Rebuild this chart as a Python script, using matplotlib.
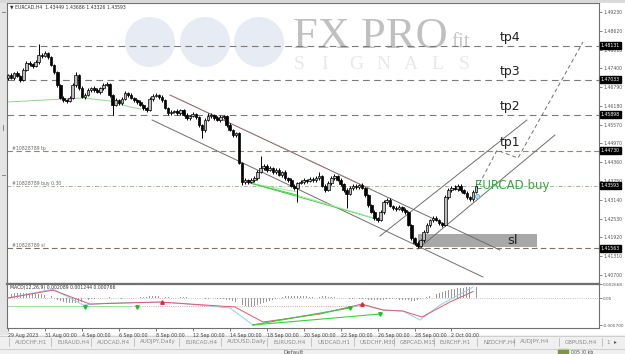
import matplotlib
matplotlib.use("Agg")
import matplotlib.pyplot as plt
from matplotlib.patches import Rectangle, Circle
import numpy as np

W, H = 625, 354

# EURCAD H4 closes, one per bar (bar 0 = 29 Aug 2023 00:00)
first_open = 1.47089
closes = [
    1.47187, 1.47089, 1.47252, 1.47154, 1.47025, 1.47349, 1.47576, 1.47544, 1.47479, 1.47608,
    1.47835, 1.47803, 1.47900, 1.47770, 1.47511, 1.47284, 1.46862, 1.46441, 1.46376, 1.46344,
    1.46441, 1.46862, 1.47187, 1.46765, 1.46473, 1.46538, 1.46700, 1.46765, 1.46700, 1.46635,
    1.46765, 1.46862, 1.46895, 1.46538, 1.46214, 1.46376, 1.46279, 1.46408, 1.46603, 1.46538,
    1.46441, 1.46376, 1.46311, 1.46214, 1.46117, 1.46052, 1.46408, 1.46506, 1.46538, 1.46473,
    1.46376, 1.46117, 1.45954, 1.45987, 1.46019, 1.45954, 1.46052, 1.45890, 1.45792, 1.45857,
    1.45922, 1.45825, 1.45565, 1.45403, 1.45727, 1.45857, 1.45890, 1.45792, 1.45727, 1.45825,
    1.45857, 1.45565, 1.45403, 1.45241, 1.45306, 1.44333, 1.43717, 1.43782, 1.43717, 1.43782,
    1.43846, 1.44041, 1.44171, 1.44236, 1.44106, 1.44171, 1.44041, 1.44106, 1.43944, 1.44041,
    1.43846, 1.43782, 1.43587, 1.43522, 1.43684, 1.43717, 1.43782, 1.43749, 1.43814, 1.43782,
    1.43846, 1.43911, 1.43587, 1.43457, 1.43684, 1.43846, 1.43911, 1.43782, 1.43652, 1.43457,
    1.43328, 1.43522, 1.43587, 1.43555, 1.43619, 1.43522, 1.43295, 1.42971, 1.42744, 1.42549,
    1.42484, 1.42744, 1.43068, 1.43133, 1.42938, 1.42874, 1.42841, 1.42906, 1.42809, 1.42744,
    1.42322, 1.41901, 1.41739, 1.41641, 1.41836, 1.42095, 1.42322, 1.42484, 1.42549, 1.42484,
    1.42387, 1.42322, 1.43230, 1.43457, 1.43522, 1.43490, 1.43587, 1.43457, 1.43360, 1.43230,
    1.43166, 1.43393, 1.43593]
# wick lengths in points (0.0001)
up_wick = [
    4, 6, 3, 5, 4, 6, 8, 5, 4, 6,
    35, 5, 6, 4, 3, 3, 4, 3, 5, 4,
    5, 6, 10, 4, 5, 6, 5, 4, 5, 6,
    4, 5, 8, 4, 3, 5, 4, 6, 5, 4,
    5, 3, 4, 5, 3, 4, 6, 5, 7, 4,
    5, 4, 3, 6, 4, 5, 4, 3, 5, 4,
    6, 4, 3, 4, 8, 10, 5, 4, 6, 5,
    4, 3, 5, 4, 3, 3, 4, 5, 4, 6,
    5, 8, 40, 6, 5, 7, 4, 6, 5, 4,
    5, 4, 6, 5, 4, 6, 5, 4, 7, 5,
    6, 12, 4, 5, 6, 5, 8, 4, 5, 4,
    5, 6, 8, 5, 4, 5, 4, 3, 4, 5,
    4, 6, 8, 5, 6, 4, 5, 6, 4, 5,
    4, 3, 4, 5, 4, 6, 5, 4, 6, 5,
    4, 3, 6, 8, 5, 10, 6, 5, 4, 5,
    4, 6, 10]
dn_wick = [
    5, 4, 6, 4, 6, 3, 4, 5, 6, 4,
    5, 6, 4, 5, 4, 5, 6, 4, 6, 5,
    4, 3, 5, 6, 4, 5, 4, 6, 5, 4,
    5, 6, 4, 5, 32, 4, 5, 6, 4, 5,
    4, 6, 5, 4, 5, 6, 4, 5, 4, 6,
    5, 4, 6, 5, 4, 5, 6, 4, 5, 6,
    4, 5, 6, 26, 5, 4, 6, 5, 4, 5,
    6, 5, 4, 6, 5, 4, 10, 6, 5, 4,
    6, 5, 4, 5, 6, 4, 5, 6, 4, 5,
    6, 5, 4, 5, 45, 4, 6, 5, 4, 5,
    6, 5, 4, 5, 4, 6, 5, 4, 5, 6,
    45, 4, 5, 6, 5, 4, 6, 5, 4, 6,
    5, 4, 6, 5, 4, 6, 5, 4, 6, 5,
    4, 6, 5, 8, 4, 5, 4, 6, 5, 4,
    6, 5, 4, 5, 6, 4, 5, 6, 4, 5,
    8, 5, 4]

# MACD histogram, in 0.0001
hist = [
    8, 8, 9, 10, 10, 10, 10, 9, 9, 8, 8, 7, 6, 5, 4,
    -2, -4, -6, -8, -9, -10, -10, -9, -8, -7, -5, -4,
    -2, -1, 0, 0, 1, 1, 2, 1, 1, 0, -1, -1, 0, 0,
    1, 1, 2, 2, 2, 3, 3, 3, 3, 2, 2, 2, 1, 1, 1, 2, 2, 2, 1, 1, 0, 0, -1, -1, -1, 0, 0, -1, -1, -2, -3, -4,
    -6, -8, -11, -14, -16, -17, -17, -16, -14, -12, -9,
    -7, -5, -3, -1, 1, 2, 3, 3, 4, 4, 4, 3, 3, 3, 2, 2, 2,
    2, 3, 3, 2, 2, 2, 1, 1, 0, 0, -1, -1, -1, -2, -2,
    -2, -3, -3, -4, -4, -3, -3, -2, -2, -2,
    -2, -3, -3, -4, -4, -5, -5, -4, -2,
    0, 2, 4, 6, 8, 10, 12, 14, 16, 17, 18, 19, 20, 20, 21, 21, 21, 21]
macd_main_x = [0, 14.6, 24.4, 33.1, 49.4, 62.3, 72.1, 79.5, 91.6, 101.3, 114.9, 121.8, 128.2, 133.8, 140.3, 151]
macd_main_y = [0, 0.00171, -0.00133, -0.00095, -0.00076, -0.00133, -0.0019, -0.00513, -0.0038,
               -0.00285, -0.00133, -0.00228, -0.00247, -0.00418, -0.00133, 0.002089]
macd_sig_x = [0, 14.6, 26.6, 49.4, 73.7, 82.8, 101.3, 114.9, 121.8, 128.2, 134.4, 143.5, 151]
macd_sig_y = [0, 0.0015, -0.00114, -0.00076, -0.00171, -0.00456, -0.00304, -0.00114, -0.00228,
              -0.00247, -0.00361, -0.00076, 0.001244]

date_pos = [0, 12, 24, 36, 48, 60, 72, 84, 96, 108, 120, 132, 144]
date_labels = ["29 Aug 2023", "31 Aug 00:00", "4 Sep 00:00", "6 Sep 00:00", "8 Sep 00:00",
               "12 Sep 00:00", "14 Sep 00:00", "18 Sep 00:00", "20 Sep 00:00", "22 Sep 00:00",
               "26 Sep 00:00", "28 Sep 00:00", "2 Oct 00:00"]
price_ticks = [1.49230, 1.48620, 1.48010, 1.47400, 1.46790, 1.46180, 1.45570, 1.44970,
               1.44360, 1.43750, 1.43140, 1.42530, 1.41920, 1.41310, 1.40700]

tp_names = ["tp4", "tp3", "tp2", "tp1"]
tp_prices = [1.48131, 1.47033, 1.45898, 1.44730]
buy_price = 1.43593
sl_price = 1.41563

# trend lines as (bar, price) pairs
down_upper = [(52.6, 1.46538), (159.7, 1.41511)]
down_lower = [(46.8, 1.45727), (154.2, 1.40636)]
up_upper = [(120.8, 1.41966), (168.5, 1.45727)]
up_lower = [(133.1, 1.41544), (177.6, 1.45241)]
projection = [(152, 1.43457), (158.8, 1.44749), (165.6, 1.44495), (186.7, 1.48257)]
red_dots = [(53.5, 1.46500), (118, 1.43480)]
ma_x = [-0.3, 24.4, 33.1, 39.6, 43]
ma_y = [1.46311, 1.46441, 1.46344, 1.46149, 1.46084]
div_lines = [[(78.6, 1.43684), (93.8, 1.43295)], [(78.6, 1.43684), (93.8, 1.43393)],
             [(78.6, 1.43684), (120.8, 1.42484)], [(93.8, 1.43295), (120.8, 1.42484)]]
sl_zone = (133.1, 171.8, 1.41609, 1.42031)

tabs = ["AUDCHF,H1", "EURAUD,H4", "AUDCAD,H4", "AUDJPY,Daily", "EURCAD,H4", "AUDUSD,Daily",
        "EURUSD,H4", "USDCAD,H1", "USDCHF,M30", "GBPCAD,M15", "EURCHF,H1", "NZDCHF,H4",
        "AUDJPY,H4", "GBPUSD,H4"]
tab_x = [15, 57, 97, 140, 185, 227, 273, 317, 360, 400, 440, 483, 520, 565]


def box(x, y, w, h):
    return [x / W, 1 - (y + h) / H, w / W, h / H]


fig = plt.figure(figsize=(W / 100, H / 100), dpi=100, facecolor="#f0f0f0")

# pixel space for the window chrome
bg = fig.add_axes([0, 0, 1, 1])
bg.set_xlim(0, W)
bg.set_ylim(H, 0)
bg.axis("off")
bg.add_patch(Rectangle((0, 0), W, 3, color="#d8d8d8"))
bg.add_patch(Rectangle((7, 3), W - 7, 332, color="white"))
bg.add_patch(Rectangle((0, 3), 7, 332, color="#e4e4e4"))
bg.plot([2, 5], [12, 12], color="#777777", lw=0.6)
bg.plot([3, 3], [125, 130], color="#777777", lw=0.6)
bg.plot([2, 5], [175, 175], color="#777777", lw=0.6)
bg.add_patch(Rectangle((0, 335), W, 13, color="#f0f0f0"))
bg.plot([0, W], [335.5, 335.5], color="#c8c8c8", lw=0.6)
for name, tx in zip(tabs, tab_x):
    bg.text(tx, 342, name, fontsize=4.0, color="#8a8a8a", va="center", ha="left")
    bg.plot([tx - 6, tx - 6], [338, 346], color="#b0b0b0", lw=0.5)
bg.plot([602, 602], [338, 346], color="#b0b0b0", lw=0.5)
bg.text(606, 342, "1", fontsize=4.0, color="#8a8a8a", va="center")
bg.text(614, 342, "\u25b8", fontsize=4.0, color="#555555", va="center")
bg.plot([0, W], [348.5, 348.5], color="#c8c8c8", lw=0.6)
bg.text(283, 353, "Default", fontsize=4.0, color="#555555", va="center")
bg.add_patch(Rectangle((558, 349), 10, 5, color="#7a9a3a"))
bg.text(571, 352, "005 /0 kb", fontsize=3.4, color="#555555", va="center")

ax = fig.add_axes(box(7, 3, 592, 280))
mx = fig.add_axes(box(7, 284, 592, 44), sharex=ax)
ax.set_xlim(-0.32, 191.9)
ax.set_ylim(1.40441, 1.49522)
mx.set_ylim(-0.0057, 0.002668)

for a in (ax, mx):
    a.set_facecolor("white")
    for s in a.spines.values():
        s.set_color("#707070")
        s.set_linewidth(0.8)
    a.yaxis.tick_right()
    a.tick_params(axis="y", length=2, width=0.5, labelsize=3.3, pad=1.5, colors="#555555")
ax.tick_params(axis="x", bottom=False, labelbottom=False)
mx.spines["top"].set_linewidth(1.6)

# watermark
for cx in (150, 205, 259):
    ax.add_patch(Circle((cx, 42), 25, transform=bg.transData, color="#e7ebf3", lw=0, zorder=0))
ax.text(293, 48, "FX PRO", transform=bg.transData, family="Liberation Serif", fontsize=32,
        color="#c0c0c0", zorder=0.5)
ax.text(451, 47, "fit", transform=bg.transData, family="Liberation Serif", fontsize=15,
        color="#c8c8c8", zorder=0.5)
for k, ch in enumerate("SIGNALS"):
    ax.text(294 + k * 27.5, 69, ch, transform=bg.transData, family="Liberation Serif",
            fontsize=14, color="#e8e8e8", zorder=0.5)

ax.text(10, 7, "\u25bc EURCAD,H4  1.43449 1.43686 1.43326 1.43593", transform=bg.transData,
        fontsize=3.3, color="#333333", va="center")

# price levels
for p in tp_prices[:3]:
    ax.axhline(p, color="#7a7a7a", lw=0.8, dashes=(6, 4), zorder=1)
ax.axhline(tp_prices[3], color="#8a8a78", lw=0.8, dashes=(5, 3), zorder=1)
ax.axhline(buy_price, color="#9ab89a", lw=0.7, dashes=(4, 2, 1, 2), zorder=1)
ax.axhline(sl_price, color="#807060", lw=0.8, dashes=(5, 3), zorder=1)
ax.text(1.3, tp_prices[3] + 0.0003, "#10828789 tp", fontsize=3.3, color="#666666")
ax.text(1.3, buy_price + 0.0003, "#10828789 buy 0.30", fontsize=3.3, color="#666666")
ax.text(1.3, sl_price + 0.0003, "#10828789 sl", fontsize=3.3, color="#666666")

# sl zone
x0, x1, y0, y1 = sl_zone
ax.add_patch(Rectangle((x0, y0), x1 - x0, y1 - y0, color="#a8a8a8", lw=0, zorder=1))

# channels and other drawings
for line in (down_upper, down_lower, up_upper, up_lower):
    xs, ys = zip(*line)
    ax.plot(xs, ys, color="#6e6e6e", lw=0.7, zorder=2)
xs, ys = zip(*red_dots)
ax.plot(xs, ys, color="#d06060", lw=0.6, ls=":", zorder=2)
xs, ys = zip(*projection)
ax.plot(xs, ys, color="#707070", lw=0.7, dashes=(4, 3), zorder=2)
ax.plot(ma_x, ma_y, color="#90d890", lw=0.7, zorder=2)
for k, line in enumerate(div_lines):
    xs, ys = zip(*line)
    ax.plot(xs, ys, color="#3ad03a" if k % 2 == 0 else "#a0e8a0", lw=0.7, zorder=2)

# candles
opens = [first_open] + closes[:-1]
idx = np.arange(len(closes))
o = np.array(opens)
c = np.array(closes)
hi = np.maximum(o, c) + np.array(up_wick) * 1e-4
lo = np.minimum(o, c) - np.array(dn_wick) * 1e-4
ax.vlines(idx, lo, hi, color="black", lw=0.7, zorder=3)
body = np.maximum(np.abs(c - o), 0.00008)
ax.bar(idx, body, bottom=np.minimum(o, c), width=0.85,
       color=np.where(c >= o, "#bdbdbd", "black"), edgecolor="black", linewidth=0.5, zorder=4)
ax.plot([152.4], [1.43263], marker="o", ms=3, mfc="#bfe6f5", mec="#52b4e0", mew=0.6, zorder=5)

# labels on the chart
for name, p in zip(tp_names, tp_prices):
    ax.text(159.5, p + 0.0005, name, fontsize=9, color="#222222", va="bottom")
ax.text(151.5, buy_price + 0.0001, "EURCAD buy", fontsize=8.5, color="#3aa63a", va="center")
ax.text(162, (y0 + y1) / 2, "sl", fontsize=9.5, color="#222222", va="center")

# price scale
ax.set_yticks(price_ticks)
ax.set_yticklabels(["%.5f" % p for p in price_ticks])
for p in tp_prices + [buy_price, sl_price]:
    ax.text(1.003, p, "%.5f" % p, transform=ax.get_yaxis_transform(), fontsize=3.3,
            color="white", va="center", ha="left",
            bbox=dict(boxstyle="square,pad=0.2", fc="black", ec="black"), zorder=6, clip_on=False)

# MACD panel
mx.bar(idx, np.array(hist) * 1e-4, width=0.3, color="#9a9a9a", zorder=2)
mx.axhline(0, color="#b0b0b0", lw=0.6, ls=":", zorder=1)
mx.plot([-0.3, 40], [-0.00152, -0.00152], color="#90d890", lw=0.6, zorder=1)
mx.plot([40, 115], [-0.00152, -0.00152], color="#e08080", lw=0.6, ls=":", zorder=1)
mx.plot(macd_main_x, macd_main_y, color="#8fd0ee", lw=0.7, zorder=3)
mx.plot(macd_sig_x, macd_sig_y, color="#e05a6a", lw=0.7, zorder=3)
mx.plot([79.5, 111], [-0.00513, -0.0019], color="#3ad03a", lw=0.8, zorder=3)
mx.plot([79.5, 120.8], [-0.00513, -0.00304], color="#3ad03a", lw=0.8, zorder=3)
mx.plot([25, 41.9, 111, 120.8], [-0.0017, -0.0017, -0.0019, -0.00304], ls="none",
        marker="v", ms=2.5, color="#2ab82a", zorder=4)
mx.plot([50, 115], [-0.00076, -0.00114], ls="none", marker="^", ms=2.5, color="#d03030", zorder=4)
mx.text(0.8, 0.0024, "MACD(12,26,9) 0.002089 0.001244 0.000766", fontsize=3.3, color="#333333", va="top")
mx.set_yticks([0.002668, 0, -0.0052])
mx.set_yticklabels(["0.002668", "0.00", "-0.005700"])
mx.tick_params(axis="y", labelsize=3.1, pad=1)

mx.set_xticks(date_pos)
mx.set_xticklabels(date_labels, ha="left")
mx.tick_params(axis="x", length=2, width=0.5, labelsize=3.4, pad=1.5, colors="#444444")

fig.savefig("out.png", dpi=100, facecolor=fig.get_facecolor())
